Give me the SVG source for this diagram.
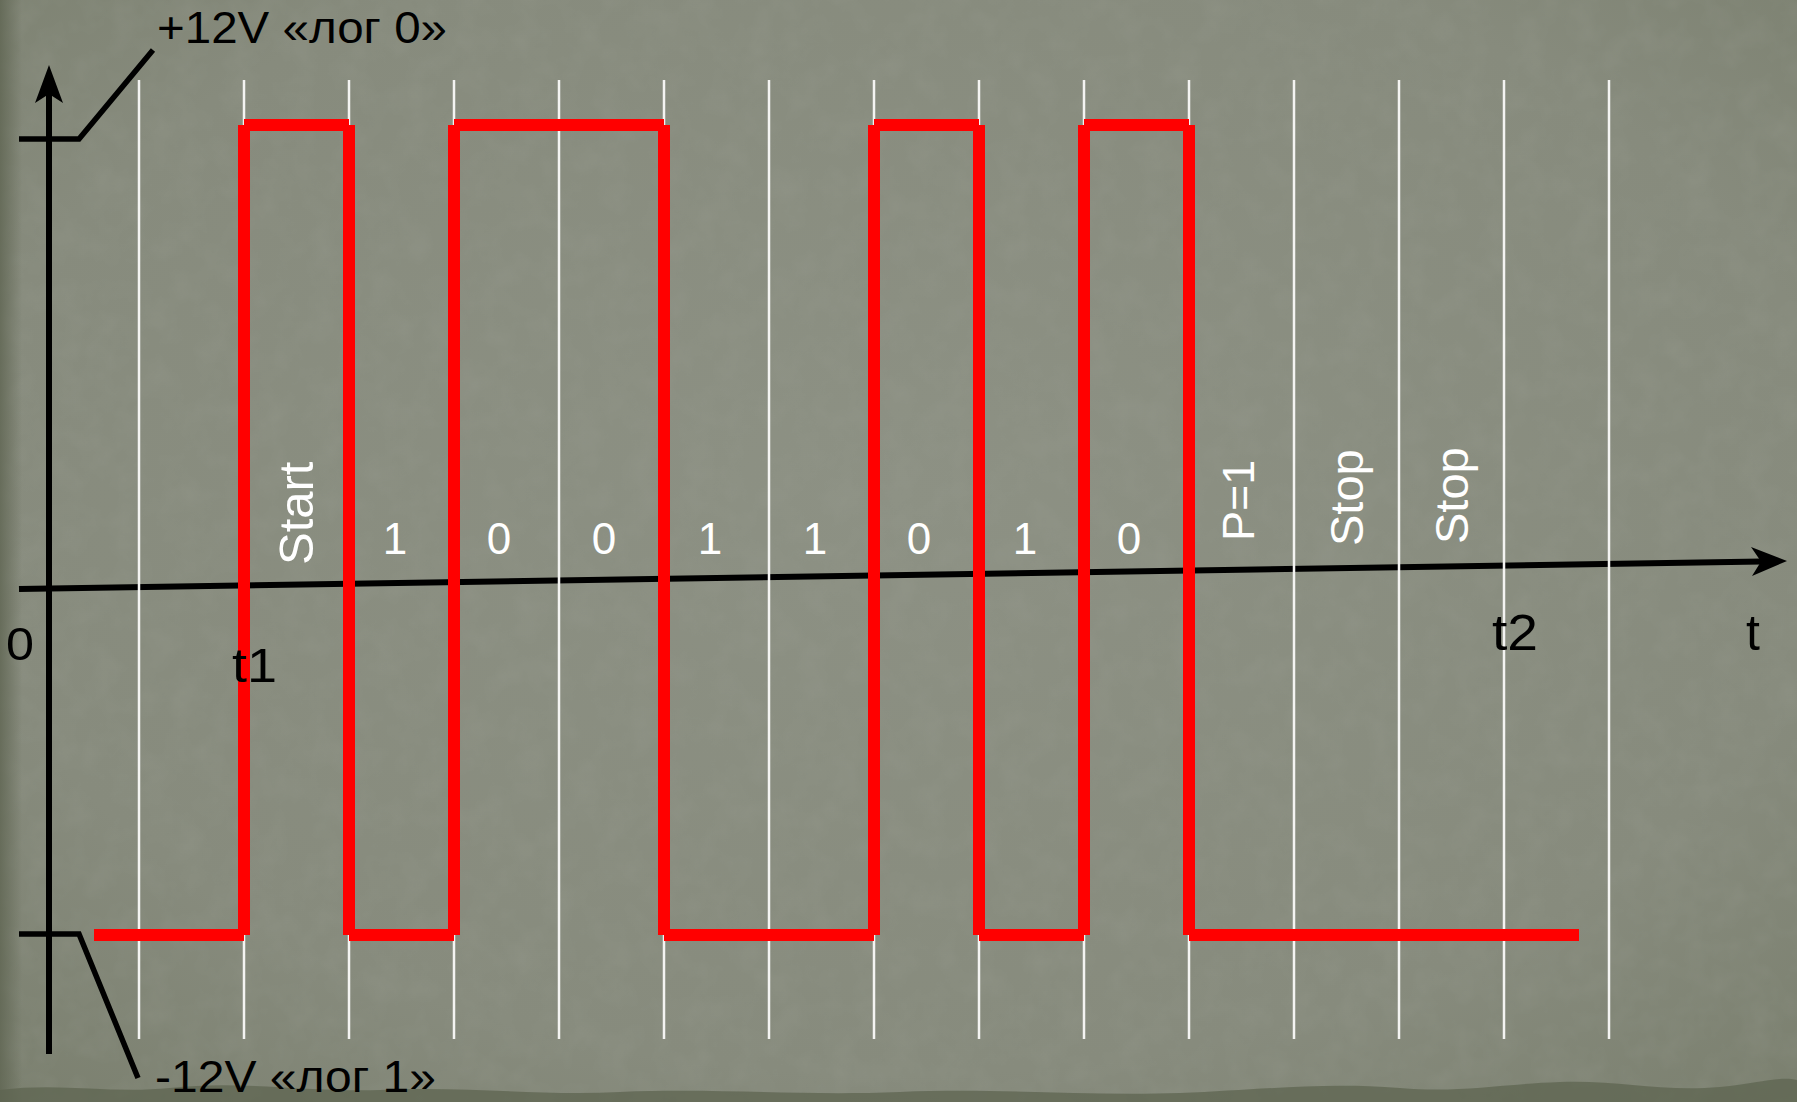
<svg xmlns="http://www.w3.org/2000/svg" width="1797" height="1102" viewBox="0 0 1797 1102">
  <defs>
    <radialGradient id="bg" cx="50%" cy="45%" r="75%">
      <stop offset="0" stop-color="#8d9184"/>
      <stop offset="0.7" stop-color="#878b7d"/>
      <stop offset="1" stop-color="#7a7f6e"/>
    </radialGradient>
    <linearGradient id="leftEdge" x1="0" y1="0" x2="1" y2="0">
      <stop offset="0" stop-color="#5f6552" stop-opacity="0.8"/>
      <stop offset="1" stop-color="#5f6552" stop-opacity="0"/>
    </linearGradient>
    <filter id="grain" x="0" y="0" width="100%" height="100%">
      <feTurbulence type="fractalNoise" baseFrequency="0.035" numOctaves="3" seed="4" result="n"/>
      <feColorMatrix type="matrix" values="0 0 0 0 0.35  0 0 0 0 0.37  0 0 0 0 0.32  0 0 0 -1.6 1.0" in="n"/>
    </filter>
    <style>
      .grid line { stroke: #f4f4f2; stroke-width: 2.5; }
      .axis { stroke: #000; stroke-width: 6; fill: none; }
      .wave line { stroke: #ff0000; stroke-width: 12; stroke-linecap: butt; }
      .blk { font-family: "Liberation Sans", Arial, sans-serif; fill: #000; }
      .wht { font-family: "Liberation Sans", Arial, sans-serif; fill: #fff; font-size: 45px; }
      .bit { text-anchor: middle; font-size: 44px; }
    </style>
  </defs>

  <g id="background">
    <rect x="0" y="0" width="1797" height="1102" fill="url(#bg)"/>
    <rect x="0" y="0" width="1797" height="1102" filter="url(#grain)" opacity="0.2"/>
    <rect x="0" y="0" width="22" height="1102" fill="url(#leftEdge)"/>
    <path d="M0,1090 C60,1082 110,1094 170,1088 C240,1080 300,1092 380,1090 C470,1086 540,1096 620,1092 C720,1088 800,1096 900,1092 C1000,1088 1080,1096 1180,1093 C1260,1090 1320,1082 1400,1088 C1460,1093 1500,1084 1560,1082 C1620,1080 1660,1092 1720,1087 C1760,1083 1780,1076 1797,1080 L1797,1102 L0,1102 Z" fill="#5e6450" opacity="0.75"/>
  </g>

  <g id="axes">
    <line class="axis" x1="49" y1="92" x2="49" y2="1054"/>
    <polygon points="49,65 63,103 49,94 35,103" fill="#000"/>
    <line class="axis" x1="19" y1="589" x2="1762" y2="561.5"/>
    <polygon points="1787,561 1752,576 1761,561.5 1751,547" fill="#000"/>
    <polyline class="axis" points="19,139 79,139 153,50" style="stroke-width:5.5"/>
    <polyline class="axis" points="19,934 79,934 138,1078" style="stroke-width:5.5"/>
  </g>

  <g id="grid" class="grid">
    <line x1="139" y1="80" x2="139" y2="1039"/>
    <line x1="244" y1="80" x2="244" y2="1039"/>
    <line x1="349" y1="80" x2="349" y2="1039"/>
    <line x1="454" y1="80" x2="454" y2="1039"/>
    <line x1="559" y1="80" x2="559" y2="1039"/>
    <line x1="664" y1="80" x2="664" y2="1039"/>
    <line x1="769" y1="80" x2="769" y2="1039"/>
    <line x1="874" y1="80" x2="874" y2="1039"/>
    <line x1="979" y1="80" x2="979" y2="1039"/>
    <line x1="1084" y1="80" x2="1084" y2="1039"/>
    <line x1="1189" y1="80" x2="1189" y2="1039"/>
    <line x1="1294" y1="80" x2="1294" y2="1039"/>
    <line x1="1399" y1="80" x2="1399" y2="1039"/>
    <line x1="1504" y1="80" x2="1504" y2="1039"/>
    <line x1="1609" y1="80" x2="1609" y2="1039"/>
  </g>

  <g id="waveform" class="wave">
    <line x1="94" y1="935" x2="244" y2="935"/>
    <line x1="244" y1="125" x2="244" y2="935"/>
    <line x1="244" y1="125" x2="349" y2="125"/>
    <line x1="349" y1="125" x2="349" y2="935"/>
    <line x1="349" y1="935" x2="454" y2="935"/>
    <line x1="454" y1="125" x2="454" y2="935"/>
    <line x1="454" y1="125" x2="664" y2="125"/>
    <line x1="664" y1="125" x2="664" y2="935"/>
    <line x1="664" y1="935" x2="874" y2="935"/>
    <line x1="874" y1="125" x2="874" y2="935"/>
    <line x1="874" y1="125" x2="979" y2="125"/>
    <line x1="979" y1="125" x2="979" y2="935"/>
    <line x1="979" y1="935" x2="1084" y2="935"/>
    <line x1="1084" y1="125" x2="1084" y2="935"/>
    <line x1="1084" y1="125" x2="1189" y2="125"/>
    <line x1="1189" y1="125" x2="1189" y2="935"/>
    <line x1="1189" y1="935" x2="1579" y2="935"/>
  </g>

  <g id="axis-labels">
    <text class="blk" x="157" y="43" font-size="45" textLength="290" lengthAdjust="spacingAndGlyphs">+12V «лог 0»</text>
    <text class="blk" x="155" y="1092" font-size="45" textLength="281" lengthAdjust="spacingAndGlyphs">-12V «лог 1»</text>
    <text class="blk" x="6" y="660" font-size="46" textLength="28" lengthAdjust="spacingAndGlyphs">0</text>
    <text class="blk" x="232" y="682" font-size="48" textLength="45" lengthAdjust="spacingAndGlyphs">t1</text>
    <text class="blk" x="1492" y="650" font-size="50" textLength="46" lengthAdjust="spacingAndGlyphs">t2</text>
    <text class="blk" x="1746" y="650" font-size="50">t</text>
  </g>

  <g id="bit-labels" class="wht">
    <text transform="translate(313,565) rotate(-90)" style="font-size:49px">Start</text>
    <text class="bit" x="395" y="554">1</text>
    <text class="bit" x="499" y="554">0</text>
    <text class="bit" x="604" y="554">0</text>
    <text class="bit" x="710" y="554">1</text>
    <text class="bit" x="815" y="554">1</text>
    <text class="bit" x="919" y="554">0</text>
    <text class="bit" x="1025" y="554">1</text>
    <text class="bit" x="1129" y="554">0</text>
    <text transform="translate(1254,541) rotate(-90)">P=1</text>
    <text transform="translate(1363,546) rotate(-90)" style="font-size:47px">Stop</text>
    <text transform="translate(1468,544) rotate(-90)" style="font-size:47px">Stop</text>
  </g>
</svg>
